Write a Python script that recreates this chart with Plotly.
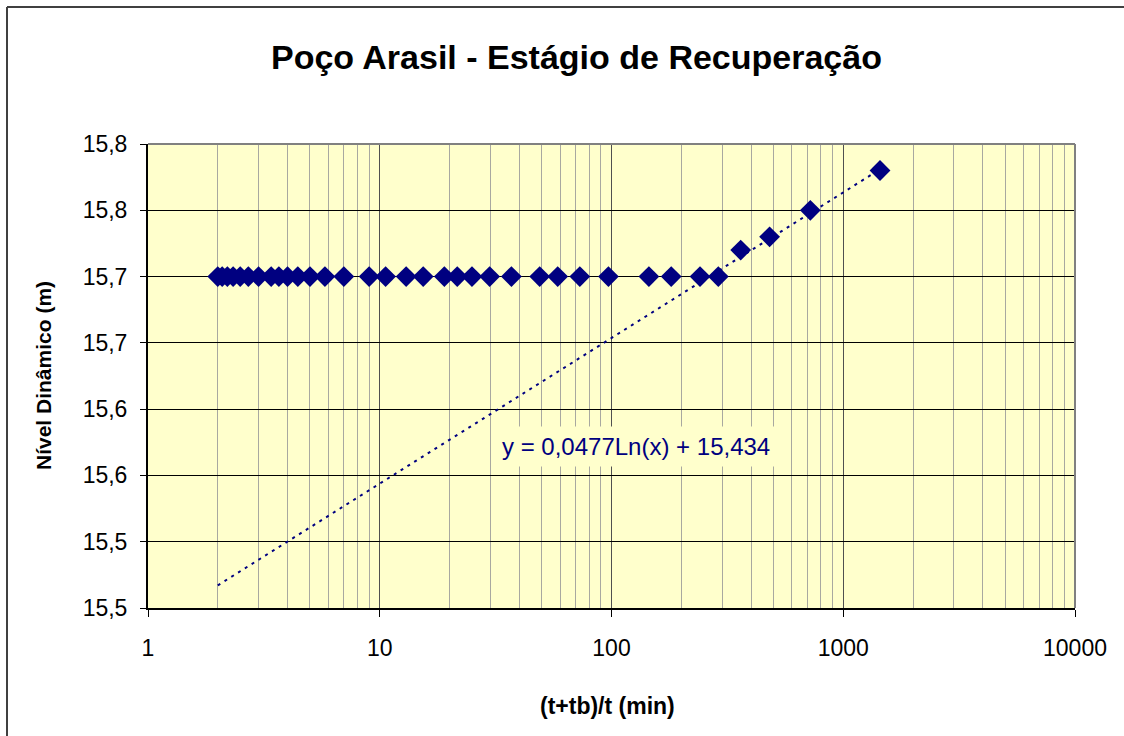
import numpy as np
import plotly.graph_objects as go

# Data
x_ratio = [1441, 721, 481, 361, 289, 241, 181, 145, 97, 73, 58.6, 49, 37, 29.8, 25,
           21.6, 19, 15.4, 13, 10.6, 9, 7, 5.8, 5, 4.43, 4, 3.67, 3.4, 3, 2.71,
           2.5, 2.33, 2.2, 2.09, 2]
nivel = [15.78, 15.75, 15.73, 15.72, 15.70, 15.70, 15.70, 15.70, 15.70, 15.70, 15.70,
         15.70, 15.70, 15.70, 15.70, 15.70, 15.70, 15.70, 15.70, 15.70, 15.70, 15.70,
         15.70, 15.70, 15.70, 15.70, 15.70, 15.70, 15.70, 15.70, 15.70, 15.70, 15.70,
         15.70, 15.70]
trend_a = 0.0477
trend_b = 15.434
y_tickvals = [15.45, 15.50, 15.55, 15.60, 15.65, 15.70, 15.75, 15.80]
y_ticktext = ["15,5", "15,5", "15,6", "15,6", "15,7", "15,7", "15,8", "15,8"]
x_tickvals = [1, 10, 100, 1000, 10000]
x_ticktext = ["1", "10", "100", "1000", "10000"]

W, H = 1124, 736
L, R, T, B = 148, 1075, 144, 608
pw, ph = R - L, B - T
def px(xp): return (xp - L) / pw
def py(yp): return (B - yp) / ph

tx = np.array([min(x_ratio), max(x_ratio)])
ty = trend_a * np.log(tx) + trend_b

NAVY = "#000080"
FONT = "Liberation Sans, Arial, sans-serif"

fig = go.Figure()
fig.add_trace(go.Scatter(x=tx, y=ty, mode="lines",
                         line=dict(color=NAVY, width=2, dash="3px,5px"),
                         hoverinfo="skip", showlegend=False))
fig.add_trace(go.Scatter(x=x_ratio, y=nivel, mode="markers",
                         marker=dict(symbol="diamond", size=16, color=NAVY,
                                     line=dict(width=0)),
                         showlegend=False))

fig.update_layout(
    width=W, height=H,
    margin=dict(l=L, r=W - R, t=T, b=H - B),
    paper_bgcolor="white", plot_bgcolor="#FFFFCC",
    font=dict(family=FONT, color="black", size=23),
    xaxis=dict(type="log", range=[0, 4], tickvals=x_tickvals, ticktext=x_ticktext,
               showgrid=True, gridcolor="#505050", gridwidth=1,
               minor=dict(showgrid=True, gridcolor="#A8A8A0", gridwidth=1,
                          dtick="D1", ticks=""),
               showline=True, linecolor="black", linewidth=2,
               ticks="outside", ticklen=7, tickcolor="black",
               ticklabelstandoff=11, zeroline=False,
               tickfont=dict(size=23)),
    yaxis=dict(range=[15.45, 15.80], tickvals=y_tickvals, ticktext=y_ticktext,
               showgrid=True, gridcolor="black", gridwidth=1,
               showline=True, linecolor="black", linewidth=2,
               ticks="outside", ticklen=6, tickcolor="black",
               ticklabelstandoff=8, zeroline=False,
               tickfont=dict(size=23)),
    shapes=[
        # plot area top/right border (gray)
        dict(type="line", xref="paper", yref="paper", x0=0, x1=1, y0=1, y1=1,
             line=dict(color="#808080", width=2)),
        dict(type="line", xref="paper", yref="paper", x0=1, x1=1, y0=0, y1=1,
             line=dict(color="#808080", width=2)),
        # outer chart frame (top and left)
        dict(type="line", xref="paper", yref="paper", x0=px(7), x1=px(W + 5),
             y0=py(7), y1=py(7), line=dict(color="#404040", width=2)),
        dict(type="line", xref="paper", yref="paper", x0=px(7), x1=px(7),
             y0=py(7), y1=py(H + 5), line=dict(color="#404040", width=2)),
    ],
    annotations=[
        dict(text="<b>Poço Arasil - Estágio de Recuperação</b>", xref="paper", yref="paper",
             x=px(576), y=py(57), showarrow=False, font=dict(size=34, family=FONT),
             xanchor="center", yanchor="middle"),
        dict(text="<b>(t+tb)/t (min)</b>", xref="paper", yref="paper",
             x=px(607), y=py(706), showarrow=False, font=dict(size=23, family=FONT),
             xanchor="center", yanchor="middle"),
        dict(text="<b>Nível Dinâmico (m)</b>", xref="paper", yref="paper",
             x=px(43), y=py(376), showarrow=False, textangle=-90,
             font=dict(size=21, family=FONT), xanchor="center", yanchor="middle"),
        dict(text="y = 0,0477Ln(x) + 15,434", xref="paper", yref="paper",
             x=px(636), y=py(446), showarrow=False, bgcolor="#FFFFCC",
             font=dict(size=24, family=FONT, color=NAVY), borderpad=6,
             xanchor="center", yanchor="middle"),
    ],
)

fig.write_html("out.html")
